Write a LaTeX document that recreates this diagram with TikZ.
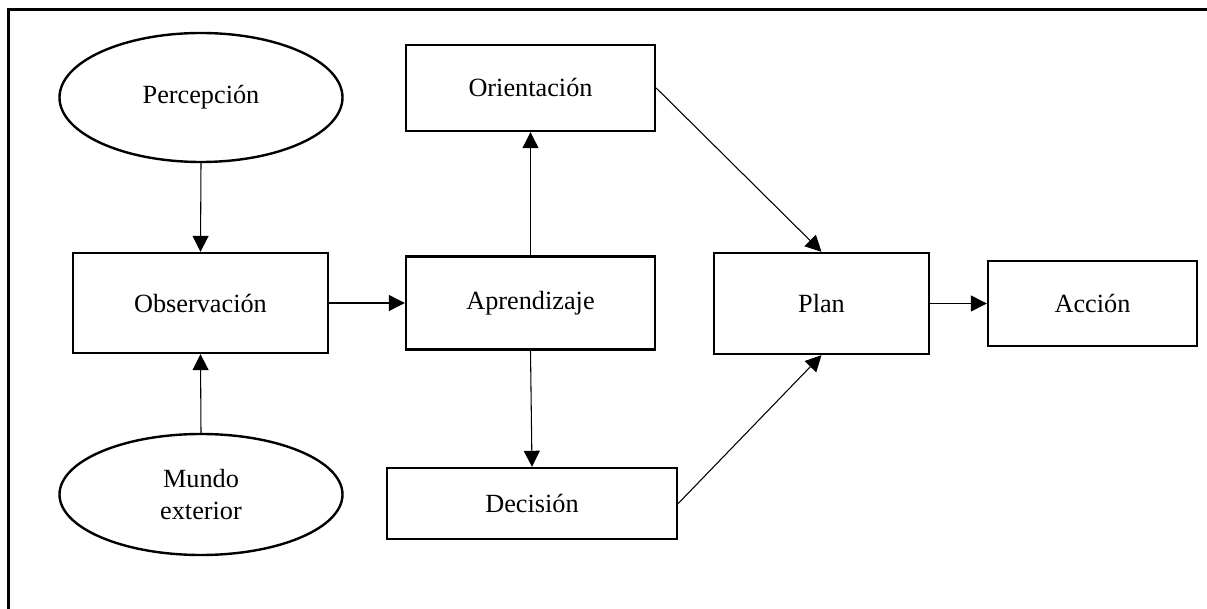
\documentclass[tikz,border=0pt]{standalone}
\usepackage{fontspec}
\setmainfont{Liberation Serif}
\usetikzlibrary{shapes.geometric,arrows.meta}
\begin{document}
\begin{tikzpicture}[x=0.75pt,y=-0.75pt,
  every node/.style={font=\fontsize{19.7}{24}\selectfont, inner sep=0pt},
  boxnode/.style={draw, line width=1.8pt, rectangle},
  ellnode/.style={draw, line width=1.8pt, ellipse, align=center},
  conn/.style={line width=0.8pt, -{Triangle[length=12pt,width=12pt]}},
  frameline/.style={line width=1.8pt}]
\useasboundingbox (0,0) rectangle (1207,609);
\coordinate (fbl) at (8.5,609);
\coordinate (ftl) at (8.5,9.5);
\coordinate (ftr) at (1207,9.5);
\draw[frameline] (fbl) -- (ftl) -- (ftr);

\node[ellnode, minimum width=212.25pt, minimum height=96.75pt] (perc) at (201,97.5) {Percepción};
\node[ellnode, minimum width=212.25pt, minimum height=90.75pt] (mundo) at (201,494.5) {Mundo\\exterior};
\node[boxnode, minimum width=191.25pt, minimum height=75pt] (obs) at (200.5,303) {Observación};
\node[boxnode, minimum width=186.75pt, minimum height=64.5pt] (orient) at (530.5,88) {Orientación};
\node[boxnode, minimum width=186.75pt, minimum height=69.75pt] (apr) at (530.5,303) {Aprendizaje};
\node[boxnode, minimum width=217.5pt, minimum height=53.25pt] (dec) at (532,503.5) {Decisión};
\node[boxnode, minimum width=161.25pt, minimum height=75.75pt] (plan) at (821.5,303.5) {Plan};
\node[boxnode, minimum width=156.75pt, minimum height=63.75pt] (accion) at (1092.5,303.5) {Acción};

\draw[conn] (perc.south) -- (obs.north);
\draw[conn] (mundo.north) -- (obs.south);
\draw[conn] (obs.east) -- (apr.west);
\draw[conn] (apr.north) -- (orient.south);
\draw[conn] (apr.south) -- (dec.north);
\draw[conn] (orient.east) -- (plan.north);
\draw[conn] (dec.east) -- (plan.south);
\draw[conn] (plan.east) -- (accion.west);
\end{tikzpicture}
\end{document}
